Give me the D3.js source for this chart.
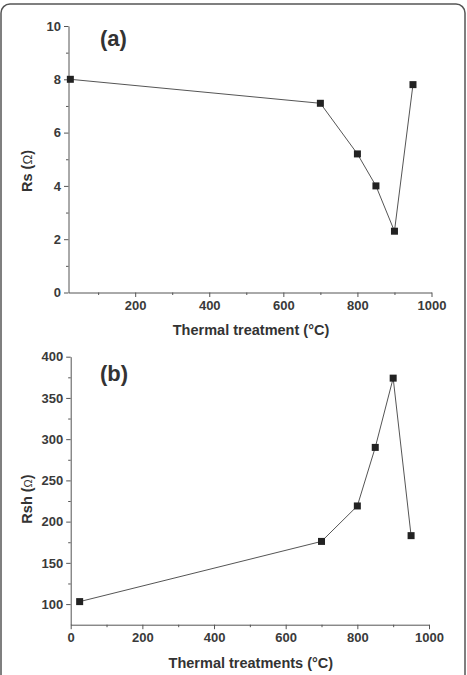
<!DOCTYPE html>
<html>
<head>
<meta charset="utf-8">
<script src="https://cdn.jsdelivr.net/npm/d3@7"></script>
<style>
  body { margin: 0; background: #fff; }
  svg text { font-family: "Liberation Sans", Arial, sans-serif; fill: #333; }
</style>
</head>
<body>
<svg id="chart" width="467" height="675"></svg>
<script>
// panel (a) – series resistance
const tempA = [25, 700, 800, 850, 900, 950];
const rsA = [8.0, 7.1, 5.2, 4.0, 2.3, 7.8];
const xTicksA = [200, 400, 600, 800, 1000];
const yTicksA = [0, 2, 4, 6, 8, 10];

// panel (b) – shunt resistance
const tempB = [25, 700, 800, 850, 900, 950];
const rshB = [103, 176, 219, 290, 374, 183];
const xTicksB = [0, 200, 400, 600, 800, 1000];
const yTicksB = [100, 150, 200, 250, 300, 350, 400];

const svg = d3.select('#chart');

// outer frame
svg.append('rect')
    .attr('x', 1).attr('y', 4)
    .attr('width', 464).attr('height', 700)
    .attr('rx', 9)
    .attr('fill', 'none')
    .attr('stroke', '#555')
    .attr('stroke-width', 1.5);

function drawPanel(cfg) {
    const g = svg.append('g');
    const x = d3.scaleLinear().domain(cfg.xDomain).range(cfg.xRange);
    const y = d3.scaleLinear().domain(cfg.yDomain).range(cfg.yRange);

    // minor ticks
    g.append('g')
        .attr('transform', `translate(0,${cfg.yRange[0]})`)
        .call(d3.axisBottom(x).tickValues(cfg.xMinor).tickSize(2.5).tickFormat('').tickSizeOuter(0))
        .call(a => a.select('.domain').remove());
    g.append('g')
        .attr('transform', `translate(${cfg.xRange[0]},0)`)
        .call(d3.axisLeft(y).tickValues(cfg.yMinor).tickSize(2.5).tickFormat('').tickSizeOuter(0))
        .call(a => a.select('.domain').remove());

    // major axes
    const xa = g.append('g')
        .attr('transform', `translate(0,${cfg.yRange[0]})`)
        .call(d3.axisBottom(x).tickValues(cfg.xTicks).tickFormat(d3.format('d'))
            .tickSize(4.5).tickPadding(4).tickSizeOuter(0));
    const ya = g.append('g')
        .attr('transform', `translate(${cfg.xRange[0]},0)`)
        .call(d3.axisLeft(y).tickValues(cfg.yTicks).tickFormat(d3.format('d'))
            .tickSize(4.5).tickPadding(3).tickSizeOuter(0));

    [xa, ya].forEach(a => {
        a.attr('font-size', null).attr('font-family', null);
        a.selectAll('text')
            .style('font-size', '13px')
            .style('font-weight', 'bold')
            .style('fill', '#3a3a3a');
    });
    g.selectAll('.domain, .tick line').attr('stroke', '#555').attr('stroke-width', 1);

    // line and markers
    const pts = cfg.xs.map((v, i) => [v, cfg.ys[i]]);
    g.append('path')
        .datum(pts)
        .attr('fill', 'none')
        .attr('stroke', '#555')
        .attr('stroke-width', 1)
        .attr('d', d3.line().x(d => x(d[0])).y(d => y(d[1])));

    g.selectAll('rect.pt')
        .data(pts)
        .enter()
        .append('rect')
        .attr('class', 'pt')
        .attr('x', d => x(d[0]) - 3.5)
        .attr('y', d => y(d[1]) - 3.5)
        .attr('width', 7)
        .attr('height', 7)
        .attr('fill', '#222');

    // panel tag
    g.append('text')
        .attr('x', cfg.tag[1])
        .attr('y', cfg.tag[2])
        .style('font-size', '22px')
        .style('font-weight', 'bold')
        .text(cfg.tag[0]);

    // axis titles
    g.append('text')
        .attr('x', (cfg.xRange[0] + cfg.xRange[1]) / 2 + 1)
        .attr('y', cfg.xTitleY)
        .attr('text-anchor', 'middle')
        .style('font-size', '14.5px')
        .style('font-weight', 'bold')
        .text(cfg.xTitle);

    const yt = g.append('text')
        .attr('transform', `translate(32,${cfg.yTitleY}) rotate(-90)`)
        .attr('text-anchor', 'middle')
        .style('font-size', '14.5px')
        .style('font-weight', 'bold');
    yt.append('tspan').text(cfg.yTitle + ' (');
    yt.append('tspan').style('font-weight', 'normal').style('font-size', cfg.omegaSize + 'px').text('Ω');
    yt.append('tspan').text(')');
}

drawPanel({
    xs: tempA, ys: rsA,
    xDomain: [20, 1000], xRange: [68.5, 431.5],
    yDomain: [0, 10], yRange: [292.5, 26],
    xTicks: xTicksA, yTicks: yTicksA,
    xMinor: [100, 300, 500, 700, 900], yMinor: [1, 3, 5, 7, 9],
    tag: ['(a)', 100, 46],
    xTitle: 'Thermal treatment (°C)', xTitleY: 335,
    yTitle: 'Rs', yTitleY: 171, omegaSize: 13
});

drawPanel({
    xs: tempB, ys: rshB,
    xDomain: [0, 1000], xRange: [70.7, 429],
    yDomain: [75, 400], yRange: [624.7, 356.7],
    xTicks: xTicksB, yTicks: yTicksB,
    xMinor: [100, 300, 500, 700, 900], yMinor: [125, 175, 225, 275, 325, 375],
    tag: ['(b)', 100, 381],
    xTitle: 'Thermal treatments (°C)', xTitleY: 668,
    yTitle: 'Rsh', yTitleY: 499, omegaSize: 11
});
</script>
</body>
</html>
